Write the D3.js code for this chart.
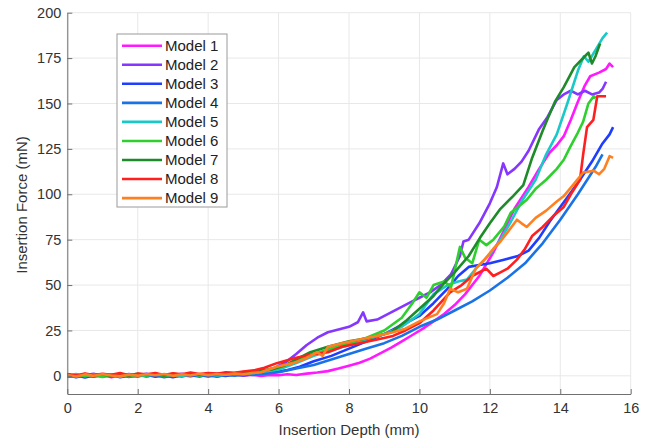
<!DOCTYPE html>
<html>
<head>
<meta charset="utf-8">
<script src="https://cdn.jsdelivr.net/npm/d3@7"></script>
<style>
  body { margin: 0; background: #fff; }
  svg { font-family: "Liberation Sans", Arial, sans-serif; }
</style>
</head>
<body>
<div id="chart"></div>
<script>
// Insertion force vs insertion depth, 9 models
const modelNames = ["Model 1", "Model 2", "Model 3", "Model 4", "Model 5", "Model 6", "Model 7", "Model 8", "Model 9"];
const modelColors = ["#ff19ff", "#8536ff", "#1f3dff", "#1a73e6", "#1ac8c8", "#2ecf2e", "#1f8a2a", "#ff1f1f", "#ff8020"];

const xTicks = [0, 2, 4, 6, 8, 10, 12, 14, 16];
const yTicks = [0, 25, 50, 75, 100, 125, 150, 175, 200];

// [depth (mm), force (mN)]
const model1 = [[0,0.4],[0.25,-0.6],[0.5,0.9],[0.75,-0.2],[1,0.7],[1.25,-0.8],[1.5,0.5],[1.75,0.1],[2,1.0],[2.25,-0.4],[2.5,0.6],[2.75,-0.3],[3,0.8],[3.25,0],[3.5,0.5],[3.75,-0.5],[4,0.7],[4.25,-0.2],[4.5,0.4],[4.75,0.9],[5,0.2],[5.25,0.6],[5.5,-0.1],[5.75,0.5],[6,0.3],[6.25,0.9],[6.5,0.5],[6.8,1.2],[7.1,1.8],[7.4,2.6],[7.7,4],[8,5.6],[8.3,7.2],[8.6,9.5],[8.9,12.5],[9.2,15.5],[9.5,19],[9.8,22.5],[10.1,26],[10.4,30],[10.7,34],[11,39],[11.3,45],[11.7,55],[12.1,68],[12.4,80],[12.7,92],[13.1,104],[13.4,114],[13.7,123],[13.9,127],[14.1,132],[14.3,141],[14.5,151],[14.7,160],[14.85,165],[15.1,167],[15.3,169],[15.4,172],[15.5,170]];
const model2 = [[0,0.8],[0.25,-0.3],[0.5,0.5],[0.75,1.1],[1,-0.2],[1.25,0.6],[1.5,0.2],[1.75,1.0],[2,0.3],[2.25,1.2],[2.5,0.1],[2.75,0.9],[3,0.4],[3.25,1.1],[3.5,0.3],[3.75,0.8],[4,0.5],[4.25,1.2],[4.5,0.9],[4.75,1.5],[5,1.3],[5.3,2],[5.6,3],[5.9,4.5],[6.2,7.5],[6.5,12],[6.8,17],[7.1,21],[7.4,24],[7.7,25.5],[8,27],[8.25,29.5],[8.4,35],[8.5,30],[8.8,31],[9.1,34],[9.4,37],[9.7,40],[10,43],[10.3,46],[10.6,50],[10.9,56],[11.15,66],[11.25,74],[11.4,75],[11.7,84],[12,95],[12.2,104],[12.38,117],[12.5,111],[12.7,114],[12.9,118],[13.1,124],[13.4,136],[13.62,142],[13.9,152],[14.1,155],[14.3,157],[14.5,155],[14.7,157],[14.9,155],[15.1,156],[15.2,158],[15.3,162]];
const model3 = [[0,-0.6],[0.25,0.3],[0.5,-0.9],[0.75,0.2],[1,-0.4],[1.25,0.5],[1.5,-0.7],[1.75,0.1],[2,-0.3],[2.25,0.6],[2.5,-0.5],[2.75,0.2],[3,-0.8],[3.25,0.4],[3.5,-0.2],[3.75,0.5],[4,-0.4],[4.25,0.3],[4.5,0],[4.75,0.6],[5,0.2],[5.3,0.9],[5.6,1.4],[5.9,2],[6.2,3],[6.6,5],[7,8],[7.5,11],[8,15],[8.5,19],[9,23],[9.5,28],[10,33],[10.4,40],[10.8,48],[11.1,55],[11.4,60],[11.7,61],[12,62],[12.4,64],[12.8,66],[13.1,69],[13.4,76],[13.7,85],[14,93],[14.3,101],[14.56,108],[14.9,118],[15.2,128],[15.4,133],[15.5,137]];
const model4 = [[0,0.2],[0.25,-0.8],[0.5,0.1],[0.75,-0.5],[1,0.4],[1.25,-0.3],[1.5,0.6],[1.75,-0.6],[2,0.2],[2.25,-0.2],[2.5,0.5],[2.75,-0.7],[3,0.1],[3.25,-0.4],[3.5,0.6],[3.75,-0.1],[4,0.3],[4.25,-0.5],[4.5,0.6],[4.75,0.1],[5,0.7],[5.3,0.5],[5.6,1.2],[6,2],[6.5,4],[7,6],[7.5,9],[8,12],[8.5,15],[9,18],[9.5,22],[10,27],[10.5,31],[11,36],[11.5,41],[12,47],[12.5,54],[13,62],[13.5,73],[14,86],[14.5,100],[15,115],[15.2,122]];
const model5 = [[0,0.3],[0.25,1.0],[0.5,-0.2],[0.75,0.7],[1,0.1],[1.25,0.9],[1.5,-0.3],[1.75,0.5],[2,0.8],[2.25,0],[2.5,1.1],[2.75,0.3],[3,0.6],[3.25,-0.1],[3.5,0.9],[3.75,0.4],[4,1.0],[4.25,0.2],[4.5,0.8],[4.75,1.3],[5,1.0],[5.3,1.6],[5.6,2.4],[6,3.5],[6.5,7],[7,11],[7.5,14],[8,17],[8.5,20],[9,23],[9.5,27],[10,34],[10.4,45],[10.8,50],[11.1,52],[11.35,53],[11.6,59],[12,67],[12.3,75],[12.6,85],[12.9,96],[13.3,108],[13.6,122],[13.9,133],[14.2,150],[14.5,168],[14.67,176],[14.8,173],[15.05,181],[15.2,186],[15.33,189]];
const model6 = [[0,-0.4],[0.25,0.6],[0.5,-0.1],[0.75,0.9],[1,-0.6],[1.25,0.4],[1.5,1.1],[1.75,-0.2],[2,0.6],[2.25,0.2],[2.5,1.3],[2.75,-0.1],[3,0.9],[3.25,0.5],[3.5,1.4],[3.75,0.2],[4,1.0],[4.25,0.6],[4.5,1.5],[4.75,1.1],[5,1.8],[5.3,2.3],[5.6,3],[6,4.5],[6.5,8],[7,12],[7.5,15],[8,18],[8.5,21],[9,25],[9.5,32],[9.8,40],[10,46],[10.2,43],[10.4,50],[10.7,52],[10.9,49],[11.15,71],[11.3,65],[11.5,62],[11.7,75],[11.9,72],[12.1,75],[12.4,82],[12.6,90],[12.8,93],[13.05,97],[13.3,103],[13.6,108],[13.9,114],[14.1,119],[14.28,126],[14.5,134],[14.65,140],[14.8,150],[14.95,154],[15.0,153]];
const model7 = [[0,0.6],[0.25,-0.2],[0.5,1.0],[0.75,0.3],[1,0.8],[1.25,-0.1],[1.5,0.7],[1.75,0.4],[2,1.2],[2.25,0.5],[2.5,0.9],[2.75,0.2],[3,1.1],[3.25,0.6],[3.5,1.3],[3.75,0.5],[4,1.2],[4.25,0.8],[4.5,1.6],[4.75,1.4],[5,2.1],[5.4,2.6],[5.8,3.5],[6.2,6],[6.6,10],[6.9,13],[7.4,16],[8,19],[8.6,21],[9.2,24],[9.6,30],[10,37],[10.4,44],[10.7,51],[11,57],[11.4,66],[11.72,76],[12,84],[12.3,92],[12.66,99],[12.95,105],[13.2,120],[13.5,135],[13.65,142],[13.85,151],[14.1,159],[14.4,170],[14.7,176],[14.8,178],[14.9,172],[15.0,176],[15.13,183]];
const model8 = [[0,1.0],[0.25,0.2],[0.5,1.3],[0.75,0.4],[1,1.1],[1.25,0.6],[1.5,1.5],[1.75,0.3],[2,1.2],[2.25,0.8],[2.5,1.6],[2.75,0.5],[3,1.4],[3.25,0.9],[3.5,1.8],[3.75,1.0],[4,1.6],[4.25,1.2],[4.5,2.0],[4.75,1.7],[5,2.4],[5.3,3],[5.6,4.5],[5.95,7],[6.5,10],[7,12],[7.4,13],[7.8,16],[8.3,18],[8.8,20],[9.25,22],[9.6,25],[10,29],[10.4,36],[10.87,46],[11.2,50],[11.5,55],[11.9,59],[12.1,55],[12.3,57],[12.5,59],[12.77,64],[13,70],[13.2,77],[13.5,82],[13.8,88],[14.1,93],[14.3,100],[14.56,108],[14.65,122],[14.76,137],[14.94,141],[15.05,154],[15.3,154]];
const model9 = [[0,0.5],[0.25,-0.4],[0.5,0.8],[0.75,0],[1,0.9],[1.25,0.2],[1.5,-0.3],[1.75,0.7],[2,0.1],[2.25,0.9],[2.5,0.3],[2.75,1.0],[3,0],[3.25,0.8],[3.5,0.2],[3.75,1.1],[4,0.4],[4.25,1.0],[4.5,0.6],[4.75,1.2],[5,0.9],[5.25,1.6],[5.5,2],[5.95,5],[6.4,7],[6.7,9],[7.1,13],[7.25,11],[7.4,16],[7.8,18],[8.3,20],[8.8,22],[9.25,24],[9.6,26],[10,30],[10.5,34],[10.7,40],[10.87,48],[11.1,46],[11.35,48],[11.6,59],[11.85,64],[12.1,70],[12.3,74],[12.5,79],[12.77,86],[12.9,84],[13.05,82],[13.3,87],[13.6,91],[13.9,96],[14.1,99],[14.4,106],[14.65,112],[14.95,113],[15.1,111],[15.25,114],[15.4,121],[15.5,120]];

const series = [model1, model2, model3, model4, model5, model6, model7, model8, model9];

const svg = d3.select("#chart")
  .append("svg")
  .attr("width", 654)
  .attr("height", 442);

const margin = { top: 12.7, right: 23.3, bottom: 48, left: 67.3 },
      width = 654 - margin.left - margin.right,
      height = 442 - margin.top - margin.bottom;

const g = svg.append("g")
  .attr("transform", `translate(${margin.left},${margin.top})`);

const x = d3.scaleLinear().domain([0, 16]).range([0, width]);
const y = d3.scaleLinear().domain([-10, 200]).range([height, 0]);

// grid
g.append("g")
  .selectAll("line")
  .data(xTicks)
  .join("line")
  .attr("x1", d => x(d)).attr("x2", d => x(d))
  .attr("y1", y(200)).attr("y2", y(-10))
  .attr("stroke", "#e8e8e8");

g.append("g")
  .selectAll("line")
  .data(yTicks)
  .join("line")
  .attr("x1", 0).attr("x2", width)
  .attr("y1", d => y(d)).attr("y2", d => y(d))
  .attr("stroke", "#e8e8e8");

// curves
const line = d3.line()
  .x(d => x(d[0]))
  .y(d => y(d[1]));

g.append("g")
  .selectAll("path")
  .data(series)
  .join("path")
  .attr("d", line)
  .attr("fill", "none")
  .attr("stroke", (d, i) => modelColors[i])
  .attr("stroke-width", 2.6)
  .attr("stroke-linejoin", "round");

// axes (ticks point inward)
const xAxis = g.append("g")
  .attr("transform", `translate(0,${height})`)
  .call(d3.axisBottom(x).tickValues(xTicks).tickSizeInner(-5).tickSizeOuter(0).tickPadding(9));

const yAxis = g.append("g")
  .call(d3.axisLeft(y).tickValues(yTicks).tickSizeInner(-5).tickSizeOuter(0).tickPadding(6));

[xAxis, yAxis].forEach(a => {
  a.select(".domain").attr("stroke", "#707070");
  a.selectAll(".tick line").attr("stroke", "#707070");
  a.selectAll("text").attr("fill", "#333").style("font-size", "14.5px");
});

// labels
svg.append("text")
  .attr("x", 349)
  .attr("y", 435)
  .attr("text-anchor", "middle")
  .attr("fill", "#333")
  .style("font-size", "15px")
  .text("Insertion Depth (mm)");

svg.append("text")
  .attr("transform", "translate(27,205) rotate(-90)")
  .attr("text-anchor", "middle")
  .attr("fill", "#333")
  .style("font-size", "15px")
  .text("Insertion Force (mN)");

// legend
const legend = svg.append("g").attr("transform", "translate(117,34)");
legend.append("rect")
  .attr("width", 110)
  .attr("height", 173)
  .attr("fill", "#fff")
  .attr("stroke", "#9a9a9a");

const rows = legend.selectAll("g.row")
  .data(modelNames)
  .join("g")
  .attr("class", "row")
  .attr("transform", (d, i) => `translate(0,${11.7 + i * 19.05})`);

rows.append("line")
  .attr("x1", 5).attr("x2", 45)
  .attr("stroke", (d, i) => modelColors[i])
  .attr("stroke-width", 2.6);

rows.append("text")
  .attr("x", 48)
  .attr("dy", "0.35em")
  .attr("fill", "#222")
  .style("font-size", "15px")
  .text(d => d);
</script>
</body>
</html>
